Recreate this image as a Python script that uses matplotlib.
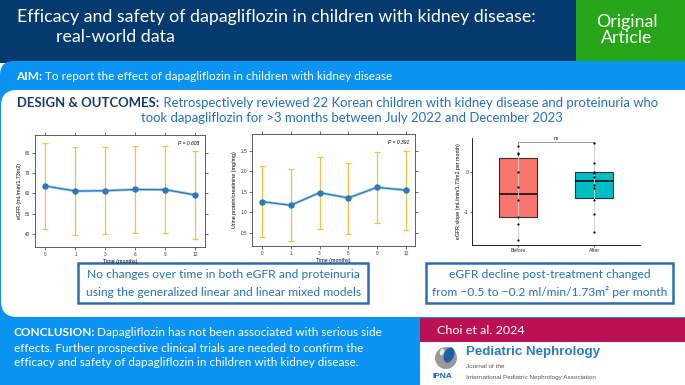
import matplotlib
matplotlib.use('Agg')
import matplotlib.pyplot as plt
from matplotlib.patches import FancyBboxPatch, Rectangle, Circle, Ellipse
import numpy as np

plt.rcParams['font.family'] = ['Lato', 'DejaVu Sans']
plt.rcParams['axes.unicode_minus'] = False

# ---- data ----
months = ['0', '1', '3', '6', '9', '12']
egfr_mean = [63.6, 61.1, 61.3, 61.9, 61.8, 59.2]
egfr_upper = [84.9, 82.6, 82.7, 83.3, 83.3, 80.8]
egfr_lower = [42.3, 39.6, 39.8, 40.3, 40.3, 37.5]
egfr_p = 'P = 0.608'

upcr_mean = [1.26, 1.17, 1.48, 1.35, 1.61, 1.54]
upcr_upper = [2.13, 2.05, 2.36, 2.22, 2.48, 2.50]
upcr_lower = [0.39, 0.30, 0.58, 0.47, 0.74, 0.57]
upcr_p = 'P = 0.391'

groups = ['Before', 'After']
slope_q1 = [-1.11, -0.63]
slope_med = [-0.54, -0.22]
slope_q3 = [0.35, 0.0]
slope_min = [-1.69, -1.48]
slope_max = [0.65, 0.72]
slope_before = [0.65, 0.48, 0.45, 0.01, -0.38, -0.70, -1.11, -1.29, -1.69]
slope_after = [0.72, 0.24, 0.0, -0.03, -0.13, -0.31, -0.40, -0.70, -1.04, -1.48]

NAVY = '#053a6e'
BLUE = '#0a93f3'
GREEN = '#27a61a'
MAGENTA = '#b91154'
TXT_BLUE = '#2470bb'
TXT_NAVY = '#18386b'
BOX_BLUE = '#2e6db4'

W, H = 685, 385
fig = plt.figure(figsize=(6.85, 3.85), dpi=100)
bg = fig.add_axes([0, 0, 1, 1])
bg.set_xlim(0, W)
bg.set_ylim(H, 0)
bg.axis('off')
renderer = fig.canvas.get_renderer()


def rich(x, y, parts, width, ha='left'):
    # draw text pieces side by side, scaled so the whole line spans `width` px
    texts = [bg.text(x, y, s, fontsize=10, fontweight=wt, color=c, va='center')
             for s, wt, c in parts]
    ws = [t.get_window_extent(renderer).width for t in texts]
    k = width / sum(ws)
    cx = x - (width / 2 if ha == 'center' else 0)
    for t, w in zip(texts, ws):
        t.set_fontsize(10 * k)
        t.set_x(cx)
        cx += w * k
    return 10 * k


# ---- background blocks ----
bg.add_patch(Rectangle((0, 0), W, 63, color=NAVY, lw=0))
bg.add_patch(FancyBboxPatch((0, 61), 760, 400, boxstyle='round,pad=0,rounding_size=14',
                            fc=BLUE, ec='none'))
bg.add_patch(Rectangle((576, 0), W - 576, 61, color=GREEN, lw=0))
bg.add_patch(FancyBboxPatch((1, 90), 760, 227, boxstyle='round,pad=0,rounding_size=16',
                            fc='white', ec='none'))
bg.add_patch(Rectangle((420, 318), W - 420, 24, color=MAGENTA, lw=0))
bg.add_patch(Rectangle((420, 342), W - 420, 43, color='white', lw=0))

# ---- header ----
s = rich(17, 17, [('Efficacy and safety of dapagliflozin in children with kidney disease:', 'normal', 'white')], 518)
bg.text(56, 37, 'real-world data', fontsize=s, color='white', va='center')
s = rich(627, 22, [('Original', 'normal', 'white')], 61, ha='center')
bg.text(627, 38, 'Article', fontsize=s, color='white', va='center', ha='center')

rich(16, 76, [('AIM:', 'bold', 'white'),
              (' To report the effect of dapagliflozin in children with kidney disease', 'normal', 'white')], 374)

s = rich(17, 103, [('DESIGN & OUTCOMES:', 'bold', TXT_NAVY),
                   (' Retrospectively reviewed 22 Korean children with kidney disease and proteinuria who',
                    'normal', TXT_BLUE)], 645)
bg.text(141, 118, 'took dapagliflozin for >3 months between July 2022 and December 2023',
        fontsize=s, color=TXT_BLUE, va='center')

# ---- result boxes ----
bg.add_patch(Rectangle((78, 263), 290, 40, fc='white', ec=BOX_BLUE, lw=1.8))
s = rich(223, 292, [('using the generalized linear and linear mixed models', 'normal', TXT_BLUE)], 274, ha='center')
bg.text(223, 274, 'No changes over time in both eGFR and proteinuria', fontsize=s,
        color=TXT_BLUE, va='center', ha='center')
bg.add_patch(Rectangle((426, 263), 247, 40, fc='white', ec=BOX_BLUE, lw=1.8))
bg.text(549.5, 274, 'eGFR decline post-treatment changed', fontsize=s,
        color=TXT_BLUE, va='center', ha='center')
bg.text(549.5, 292, 'from \u22120.5 to \u22120.2 ml/min/1.73m\u00b2 per month', fontsize=s,
        color=TXT_BLUE, va='center', ha='center')

# ---- conclusion ----
s = rich(14, 333, [('CONCLUSION:', 'bold', 'white'),
                   (' Dapagliflozin has not been associated with serious side', 'normal', 'white')], 365)
bg.text(14, 348, 'effects. Further prospective clinical trials are needed to confirm the',
        fontsize=s, color='white', va='center')
bg.text(14, 363, 'efficacy and safety of dapagliflozin in children with kidney disease.',
        fontsize=s, color='white', va='center')

# ---- citation / journal ----
rich(437, 330, [('Choi et al. 2024', 'normal', 'white')], 87)
bg.add_patch(Circle((446, 358), 11, fc='#9a9a9a', ec='none'))
bg.add_patch(Ellipse((449, 355), 10, 16, angle=20, fc='#1d5fa6', ec='none'))
bg.add_patch(Ellipse((442, 352), 4, 7, angle=20, fc='#e8e8e8', ec='none'))
bg.text(433, 377, 'IPNA', fontsize=6, fontweight='bold', color='#1f63ad',
        family='Liberation Sans', va='center')
bg.text(466, 352, 'Pediatric Nephrology', fontsize=9.6, fontweight='bold', color='#2a7bc4',
        family='Liberation Sans', va='center')
bg.text(466, 366, 'Journal of the', fontsize=4.6, color='#555555',
        family='Liberation Sans', va='center')
bg.text(466, 377, 'International Pediatric Nephrology Association', fontsize=4.6,
        color='#555555', family='Liberation Sans', va='center')


# ---- charts ----
def chart_axes(l, t, r, b):
    return fig.add_axes([l / W, 1 - b / H, (r - l) / W, (b - t) / H])


def line_chart(ax, mean, lower, upper, ylim, yticks, ylabel, ptxt, fmt):
    x = np.arange(len(months))
    mean = np.array(mean)
    err = [mean - np.array(lower), np.array(upper) - mean]
    ax.errorbar(x, mean, yerr=err, fmt='none', ecolor='#f3c04e', elinewidth=0.9,
                capsize=2.2, capthick=0.9, zorder=2)
    ax.plot(x, mean, '-', color='#a8cdea', lw=2.0, zorder=3)
    ax.plot(x, mean, '-o', color='#2c78b8', lw=0.9, ms=3.6, zorder=4)
    ax.set_xticks(x, months)
    ax.set_yticks(yticks, [fmt.format(v) for v in yticks])
    ax.set_xlim(-0.35, 5.32)
    ax.set_ylim(*ylim)
    ax.tick_params(direction='out', length=2, width=0.5, labelsize=3.4, pad=1.5,
                   top=True, right=True, colors='#333333')
    for t in ax.get_xticklabels() + ax.get_yticklabels():
        t.set_family('Liberation Sans')
    for sp in ax.spines.values():
        sp.set_linewidth(0.6)
        sp.set_color('#444444')
    ax.set_ylabel(ylabel, fontsize=3.8, family='Liberation Sans', labelpad=2)
    ax.set_xlabel('Time (months)', fontsize=3.8, family='Liberation Sans', labelpad=1.5)
    ax.text(0.965, 0.95, ptxt, transform=ax.transAxes, ha='right', va='top',
            fontsize=3.6, family='Liberation Sans', style='italic')


ax1 = chart_axes(35, 135, 205, 247)
line_chart(ax1, egfr_mean, egfr_lower, egfr_upper, (33.6, 88.7), [40, 50, 60, 70, 80],
           'eGFR (mL/min/1.73m2)', egfr_p, '{:.0f}')
ax2 = chart_axes(252, 134, 415, 246)
line_chart(ax2, upcr_mean, upcr_lower, upcr_upper, (0.17, 2.92), [0.5, 1.0, 1.5, 2.0, 2.5],
           'Urine protein/creatinine (mg/mg)', upcr_p, '{:.1f}')

ax3 = chart_axes(472, 138, 640, 245)
stats = [dict(med=slope_med[i], q1=slope_q1[i], q3=slope_q3[i], whislo=slope_min[i],
              whishi=slope_max[i], fliers=[]) for i in range(2)]
bp = ax3.bxp(stats, positions=[1, 2], widths=0.5, patch_artist=True, showcaps=False,
             boxprops=dict(ec='#333333', lw=0.8),
             medianprops=dict(color='#111111', lw=1.2),
             whiskerprops=dict(color='#c8c8c8', lw=0.6))
for patch, c in zip(bp['boxes'], ['#F8766D', '#00BFC4']):
    patch.set_facecolor(c)
ax3.vlines([1, 2], slope_min, slope_max, color='#d6d6d6', lw=0.6, zorder=3)
ax3.scatter([1] * len(slope_before), slope_before, s=2.5, color='black', zorder=4, lw=0)
ax3.scatter([2] * len(slope_after), slope_after, s=2.5, color='black', zorder=4, lw=0)
ax3.plot([1, 1, 2, 2], [0.68, 0.74, 0.74, 0.68], color='#888888', lw=0.6)
ax3.text(1.5, 0.77, 'ns', ha='center', va='bottom', fontsize=3.6, family='Liberation Sans')
ax3.set_xlim(0.4, 2.6)
ax3.set_ylim(-1.81, 0.85)
ax3.set_yticks([0, -1], ['0', '-1'])
ax3.set_xticks([1, 2], groups)
ax3.tick_params(direction='out', length=1.5, width=0.5, labelsize=3.8, pad=1, colors='#333333')
for t in ax3.get_xticklabels() + ax3.get_yticklabels():
    t.set_family('Liberation Sans')
for side in ['top', 'right']:
    ax3.spines[side].set_visible(False)
for side in ['left', 'bottom']:
    ax3.spines[side].set_linewidth(0.6)
ax3.set_ylabel('eGFR slope (mL/min/1.73m2 per month)', fontsize=3.8,
               family='Liberation Sans', labelpad=2)
ax3.patch.set_alpha(0)

fig.savefig('out.png', dpi=100)
